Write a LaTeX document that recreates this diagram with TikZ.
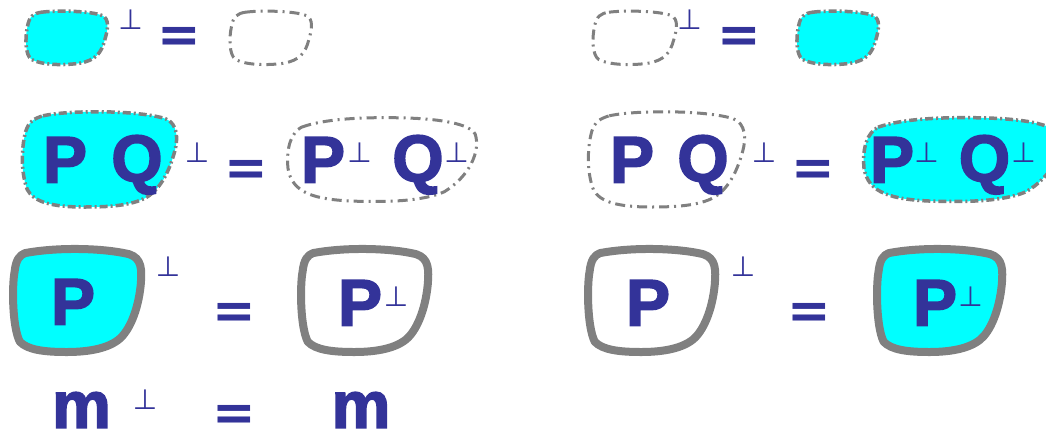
\documentclass[tikz,border=0pt]{standalone}
\usepackage{fontspec}
\setmainfont{Liberation Sans}[BoldFeatures={FakeBold=2.5}]
\newfontfamily\perpfont{DejaVu Sans}
\newfontfamily\eqfont{DejaVu Sans}[UprightFont=* Bold]
\definecolor{ink}{RGB}{51,51,153}
\definecolor{aqua}{RGB}{0,255,255}
\definecolor{edge}{RGB}{128,128,128}
% all shapes drawn in a unit box, then shifted and scaled
\newcommand{\shapesmall}[4]{\path[#4,shift={#1},xscale=#2,yscale=#3]
  (0.2,0.04) .. controls (0.4,0.0) and (0.8,0.02) .. (0.93,0.1)
  .. controls (1.02,0.16) and (1.0,0.35) .. (0.96,0.55)
  .. controls (0.92,0.78) and (0.85,0.92) .. (0.65,0.97)
  .. controls (0.45,1.01) and (0.2,1.0) .. (0.08,0.9)
  .. controls (0.0,0.82) and (0.0,0.5) .. (0.03,0.3)
  .. controls (0.05,0.12) and (0.1,0.06) .. (0.2,0.04) -- cycle;}
\newcommand{\shapepq}[4]{\path[#4,shift={#1},xscale=#2,yscale=#3]
  (0.14,0.06) .. controls (0.3,0.0) and (0.75,0.0) .. (0.92,0.09)
  .. controls (1.0,0.14) and (1.0,0.3) .. (0.98,0.42)
  .. controls (0.95,0.6) and (0.9,0.8) .. (0.8,0.9)
  .. controls (0.7,0.99) and (0.55,1.0) .. (0.4,1.0)
  .. controls (0.2,1.0) and (0.08,0.95) .. (0.04,0.82)
  .. controls (0.0,0.65) and (0.0,0.4) .. (0.03,0.22)
  .. controls (0.05,0.12) and (0.08,0.09) .. (0.14,0.06) -- cycle;}
\newcommand{\shapeoval}[4]{\path[#4,shift={#1},xscale=#2,yscale=#3]
  (0.08,0.12) .. controls (0.2,0.02) and (0.4,0.0) .. (0.6,0.01)
  .. controls (0.8,0.02) and (0.95,0.08) .. (0.98,0.2)
  .. controls (1.01,0.4) and (0.95,0.7) .. (0.82,0.88)
  .. controls (0.7,1.0) and (0.5,1.0) .. (0.35,0.99)
  .. controls (0.15,0.97) and (0.03,0.9) .. (0.01,0.6)
  .. controls (0.0,0.35) and (0.03,0.18) .. (0.08,0.12) -- cycle;}
\newcommand{\shapebig}[4]{\path[#4,shift={#1},xscale=#2,yscale=#3]
  (0.1,0.04) .. controls (0.35,-0.02) and (0.7,-0.01) .. (0.9,0.05)
  .. controls (1.0,0.09) and (1.0,0.2) .. (0.99,0.35)
  .. controls (0.97,0.6) and (0.9,0.8) .. (0.82,0.88)
  .. controls (0.72,0.98) and (0.55,1.0) .. (0.42,1.0)
  .. controls (0.25,1.0) and (0.12,0.98) .. (0.06,0.9)
  .. controls (0.0,0.75) and (0.0,0.35) .. (0.02,0.22)
  .. controls (0.03,0.1) and (0.06,0.06) .. (0.1,0.04) -- cycle;}
\tikzset{
  cyanblob/.style={fill=aqua, draw=edge, line width=3.5pt, line join=round, dash pattern=on 8pt off 3pt on 2pt off 3pt},
  hollowblob/.style={draw=edge, line width=3pt, line join=round, dash pattern=on 10pt off 5pt on 2pt off 5pt},
  cyanframe/.style={fill=aqua, draw=edge, line width=8pt, line join=round},
  hollowframe/.style={draw=edge, line width=8pt, line join=round},
  lbl/.style={text=ink, inner sep=0pt, anchor=north, font=\fontsize{66}{70}\selectfont\bfseries},
  eqs/.style={text=ink, inner sep=0pt, anchor=north, font=\fontsize{52}{56}\selectfont\eqfont},
  prp/.style={text=ink, inner sep=0pt, anchor=north, font=\fontsize{28}{30}\selectfont\perpfont},
}
\begin{document}
\begin{tikzpicture}[x=1pt,y=-1pt]
\useasboundingbox (0,0) rectangle (1046,432);
\clip (0,0) rectangle (1046,432);
% row 1
\shapesmall{(25,10)}{83}{55}{cyanblob}
\shapesmall{(229,10)}{83}{55}{hollowblob}
\shapesmall{(592,10)}{85}{55}{hollowblob}
\shapesmall{(796,10)}{83}{55}{cyanblob}
% row 2
\shapepq{(21,110)}{157}{97}{cyanblob}
\shapeoval{(286,117)}{193}{85}{hollowblob}
\shapepq{(587,110)}{159}{97}{hollowblob}
\shapeoval{(862,117)}{200}{85}{cyanblob}
% row 3
\shapebig{(12,249)}{130}{103}{cyanframe}
\shapebig{(300,249)}{129}{103}{hollowframe}
\shapebig{(587,249)}{129}{103}{hollowframe}
\shapebig{(876,249)}{127}{103}{cyanframe}
% row 1 text
\node[prp] (p1a) at (130.5,10) {⊥};
\node[eqs] (e1a) at (179.5,27) {=};
\node[prp] (p1b) at (689.5,10) {⊥};
\node[eqs] (e1b) at (739.5,27) {=};
% row 2 text
\node[lbl] (P2a) at (65,137) {P};
\node[lbl] (Q2a) at (137,135) {Q};
\node[prp] (p2a) at (197,143) {⊥};
\node[eqs] (e2a) at (246.5,160) {=};
\node[lbl] (P2b) at (323,137) {P};
\node[prp] (p2b) at (359.5,143) {⊥};
\node[lbl] (Q2b) at (418,135) {Q};
\node[prp] (p2c) at (456.5,143) {⊥};
\node[lbl] (P2c) at (632,137) {P};
\node[lbl] (Q2c) at (703,135) {Q};
\node[prp] (p2d) at (764,143) {⊥};
\node[eqs] (e2b) at (813,160) {=};
\node[lbl] (P2d) at (892,137) {P};
\node[prp] (p2e) at (926.5,143) {⊥};
\node[lbl] (Q2d) at (984.5,135) {Q};
\node[prp] (p2f) at (1023.5,143) {⊥};
% row 3 text
\node[lbl] (P3a) at (73,279) {P};
\node[prp] (p3a) at (168,257) {⊥};
\node[eqs] (e3a) at (234.5,303) {=};
\node[lbl] (P3b) at (360,280) {P};
\node[prp] (p3b) at (396,287) {⊥};
\node[lbl] (P3c) at (648,280) {P};
\node[prp] (p3c) at (743,257) {⊥};
\node[eqs] (e3b) at (809,303) {=};
\node[lbl] (P3d) at (935,280) {P};
\node[prp] (p3d) at (970.5,287) {⊥};
% row 4 text
\node[lbl] (m4a) at (81.5,392) {m};
\node[prp] (p4a) at (145,390) {⊥};
\node[eqs] (e4a) at (234.5,405) {=};
\node[lbl] (m4b) at (361,392) {m};
\end{tikzpicture}
\end{document}
